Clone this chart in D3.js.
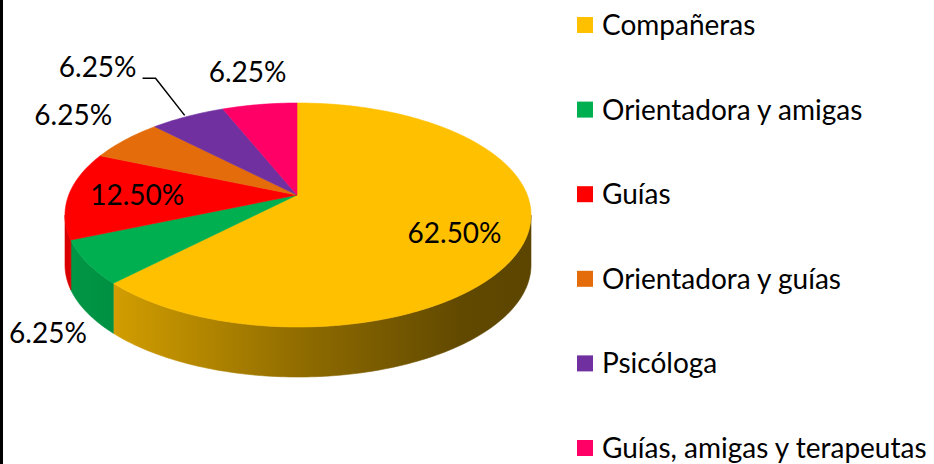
<!DOCTYPE html>
<html>
<head>
  <meta charset="utf-8">
  <script src="https://d3js.org/d3.v7.min.js"></script>
  <style>
    body { margin: 0; background: #fff; }
    text { font-family: Lato, "Open Sans", sans-serif; fill: #000; }
  </style>
</head>
<body>
  <div id="chart"></div>
  <script>
// data
const categories = ["Compañeras", "Orientadora y amigas", "Guías", "Orientadora y guías", "Psicóloga", "Guías, amigas y terapeutas"];
const values = [62.5, 6.25, 12.5, 6.25, 6.25, 6.25];
const labels = ["62.50%", "6.25%", "12.50%", "6.25%", "6.25%", "6.25%"];
const colors = ["#FFC000", "#00B050", "#FF0000", "#E46C0A", "#7030A0", "#FF0066"];

const width = 934, height = 464;

// 3d pie geometry (top ellipse, thickness, apex where slices meet)
const cx = 298, cy = 215, rx = 233, ry = 112, depth = 50;
const apex = [297, 195];

// label placement: inside labels sit along the ray, outside ones get nudged
const insideFrac = 0.7;
const inside = [true, false, true, false, false, false];
const labelNudge = [[-2, 6], [-39, 20], [0, 0], [-52, -25], [-90, -49], [-12, -33]];
const leader = [false, false, false, false, true, false];
const fontSize = 28;

const svg = d3.select("#chart")
  .append("svg")
  .attr("width", width)
  .attr("height", height)
  .style("display", "block");

svg.append("rect")
  .attr("width", width).attr("height", height)
  .attr("fill", "#fff");

// thin black border on the left edge
svg.append("rect")
  .attr("x", 0).attr("y", 0)
  .attr("width", 3).attr("height", height)
  .attr("fill", "#000");

const arcs = d3.pie().sort(null).value(d => d)(values);

// where a ray from the apex at pie angle theta hits the ellipse
function edge(theta) {
  const u0 = (apex[0] - cx) / rx, v0 = (apex[1] - cy) / ry;
  const du = Math.sin(theta), dv = -Math.cos(theta);
  const b = u0 * du + v0 * dv;
  const c = u0 * u0 + v0 * v0 - 1;
  const s = -b + Math.sqrt(b * b - c);
  const u = u0 + s * du, v = v0 + s * dv;
  let t = Math.atan2(u, -v);
  t += 2 * Math.PI * Math.round((theta - t) / (2 * Math.PI));
  return { t: t, s: s, du: du, dv: dv };
}

const pt = (t, dy = 0) => [cx + rx * Math.sin(t), cy - ry * Math.cos(t) + dy];

function arcPts(t0, t1, dy) {
  const n = Math.max(2, Math.ceil(Math.abs(t1 - t0) / 0.02));
  return d3.range(n + 1).map(i => pt(t0 + (t1 - t0) * i / n, dy));
}

const line = d3.line();
const defs = svg.append("defs");

// side shading, light on the left, dark on the right
const shade = [[0, 0.86], [0.107, 0.82], [0.5, 0.57], [0.85, 0.38], [1, 0.36]];

arcs.forEach((a, i) => {
  const g = defs.append("linearGradient")
    .attr("id", "side" + i)
    .attr("gradientUnits", "userSpaceOnUse")
    .attr("x1", cx - rx).attr("x2", cx + rx)
    .attr("y1", 0).attr("y2", 0);
  const c = d3.rgb(colors[i]);
  shade.forEach(([o, f]) => {
    g.append("stop")
      .attr("offset", o)
      .attr("stop-color", d3.rgb(c.r * f, c.g * f, c.b * f).formatHex());
  });
});

const slices = arcs.map((a, i) => {
  const e0 = edge(a.startAngle), e1 = edge(a.endAngle);
  return { i: i, t0: e0.t, t1: e1.t, a: a };
});

// sides
const sideG = svg.append("g");
slices.forEach(d => {
  const lo = Math.max(d.t0, Math.PI / 2), hi = Math.min(d.t1, 3 * Math.PI / 2);
  if (lo >= hi) return;
  const pts = arcPts(lo, hi, 0).concat(arcPts(hi, lo, depth));
  sideG.append("path")
    .attr("d", line(pts) + "Z")
    .attr("fill", `url(#side${d.i})`)
    .attr("stroke", `url(#side${d.i})`)
    .attr("stroke-width", 0.6);
});

// tops
const topG = svg.append("g");
slices.forEach(d => {
  const pts = [apex].concat(arcPts(d.t0, d.t1, 0));
  topG.append("path")
    .attr("d", line(pts) + "Z")
    .attr("fill", colors[d.i])
    .attr("stroke", colors[d.i])
    .attr("stroke-width", 0.6);
});

// data labels
const labG = svg.append("g").attr("font-size", fontSize);
arcs.forEach((a, i) => {
  const mid = (a.startAngle + a.endAngle) / 2;
  const e = edge(mid);
  const ex = apex[0] + e.s * e.du * rx, ey = apex[1] + e.s * e.dv * ry;
  let x, y;
  if (inside[i]) {
    x = apex[0] + insideFrac * (ex - apex[0]) + labelNudge[i][0];
    y = apex[1] + insideFrac * (ey - apex[1]) + labelNudge[i][1];
  } else {
    const front = Math.cos(e.t) < 0;
    x = ex + labelNudge[i][0];
    y = ey + (front ? depth : 0) + labelNudge[i][1];
  }
  const t = labG.append("text")
    .attr("x", x).attr("y", y)
    .attr("text-anchor", "middle")
    .attr("dy", "0.36em")
    .text(labels[i]);
  if (leader[i]) {
    const w = t.node().getComputedTextLength();
    const sx = x + w / 2 + 6, sy = y + 11;
    svg.append("path")
      .attr("d", line([[sx, sy], [sx + 13, sy], [ex - 3, ey - 1]]))
      .attr("fill", "none")
      .attr("stroke", "#000")
      .attr("stroke-width", 1.5);
  }
});

// legend
const legendY = d3.scalePoint().domain(categories).range([25, 448]);
const legend = svg.append("g")
  .selectAll("g")
  .data(categories)
  .join("g")
  .attr("transform", d => `translate(577, ${legendY(d)})`);

legend.append("rect")
  .attr("x", 0).attr("y", -8)
  .attr("width", 16).attr("height", 16)
  .attr("fill", (d, i) => colors[i]);

legend.append("text")
  .attr("x", 25).attr("y", 0)
  .attr("dy", "0.36em")
  .attr("font-size", fontSize)
  .text(d => d);
  </script>
</body>
</html>
